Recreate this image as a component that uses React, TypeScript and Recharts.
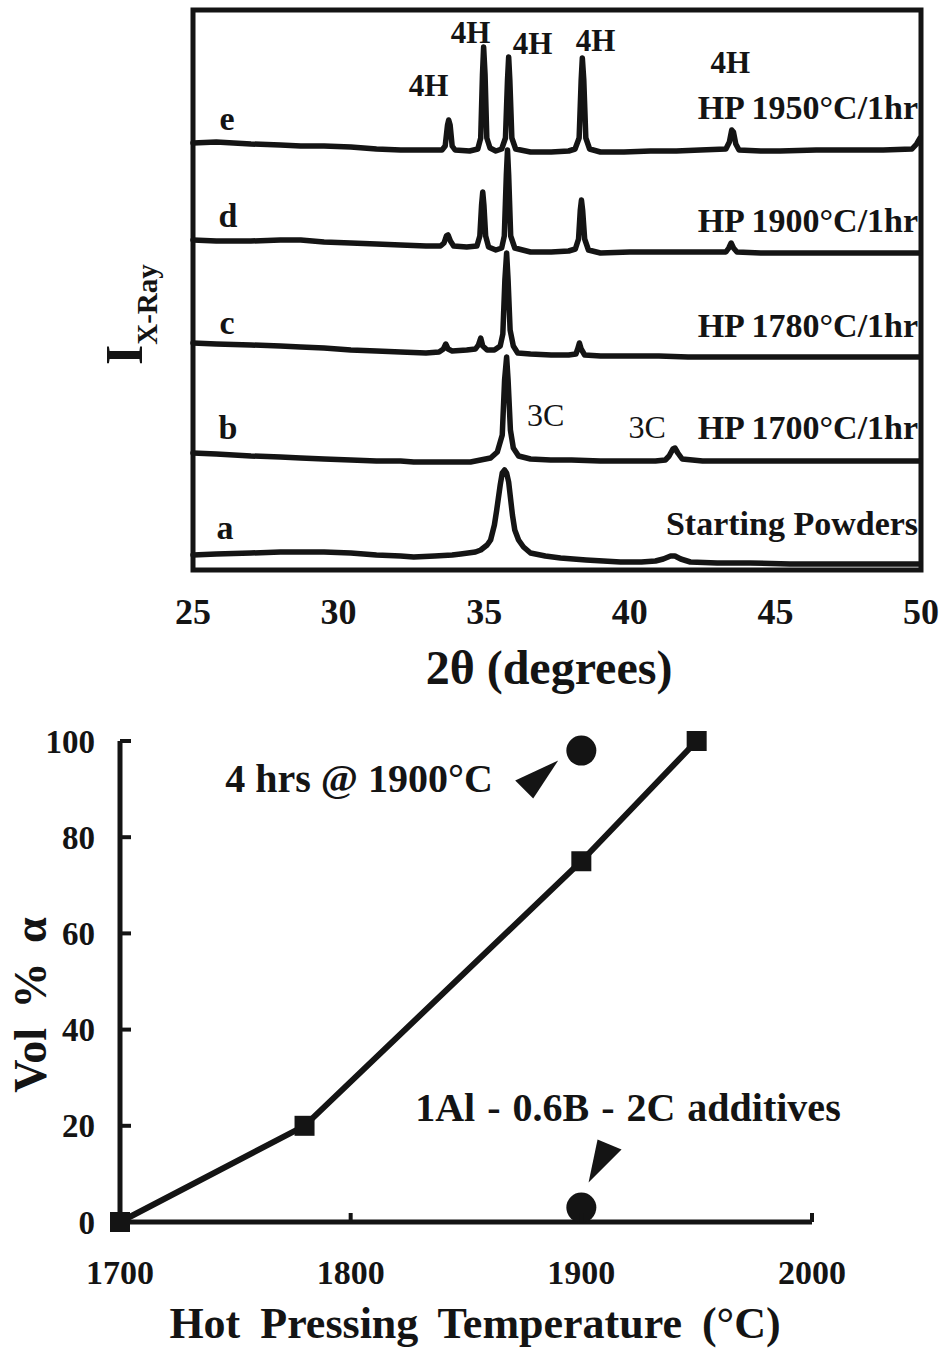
import React from 'react';
import {
  LineChart, ComposedChart, Line, Scatter, XAxis, YAxis, ReferenceArea, ReferenceDot,
} from 'recharts';

// ---------------- DATA: top panel (XRD patterns, 2θ in degrees vs. stacked intensity, a.u.) ----------------
const xrdTicks = [25, 30, 35, 40, 45, 50];

const traceE: [number, number][] = [
  [25.0, 427], [25.8, 428], [26.99, 426], [28.0, 425], [28.7, 424], [29.5, 424], [30.42, 423], [31.3, 421],
  [32.13, 420], [33.0, 420], [33.55, 420], [33.66, 424], [33.74, 445], [33.78, 450], [33.83, 445], [33.9, 424],
  [34.0, 420], [34.5, 419], [34.78, 421], [34.88, 432], [34.94, 495], [34.98, 523], [35.03, 495], [35.09, 432],
  [35.2, 422], [35.4, 419], [35.6, 421], [35.73, 432], [35.8, 490], [35.84, 513], [35.88, 490], [35.95, 432],
  [36.08, 421], [36.59, 418], [37.3, 418], [37.9, 419], [38.12, 421], [38.26, 432], [38.33, 490], [38.37, 512],
  [38.42, 490], [38.49, 432], [38.62, 421], [38.99, 418], [39.8, 418], [40.71, 419], [41.6, 419], [42.42, 420],
  [43.3, 421], [43.42, 428], [43.5, 440], [43.56, 438], [43.64, 426], [43.75, 420], [44.5, 419], [45.16, 419],
  [46.4, 420], [47.57, 420], [48.7, 420], [49.69, 421], [49.85, 426], [49.97, 432],
];

const traceD: [number, number][] = [
  [25.0, 330], [25.8, 329], [26.99, 329], [28.0, 330], [28.7, 330], [29.5, 328], [30.42, 327], [31.3, 326],
  [32.13, 325], [33.0, 324], [33.5, 324], [33.62, 327], [33.7, 334], [33.76, 335], [33.84, 329], [33.95, 324],
  [34.4, 323], [34.75, 324], [34.85, 334], [34.91, 365], [34.95, 378], [34.99, 365], [35.05, 334], [35.15, 323],
  [35.4, 320], [35.6, 322], [35.69, 334], [35.76, 395], [35.8, 420], [35.84, 395], [35.91, 334], [36.05, 322],
  [36.59, 318], [37.3, 318], [37.9, 319], [38.13, 321], [38.24, 331], [38.3, 360], [38.34, 370], [38.38, 360],
  [38.45, 331], [38.58, 320], [38.99, 317], [40.0, 318], [41.0, 318], [42.42, 318], [43.3, 318], [43.4, 322],
  [43.48, 327], [43.56, 322], [43.68, 318], [44.5, 317], [45.85, 317], [47.0, 317], [48.5, 317], [49.97, 317],
];

const traceC: [number, number][] = [
  [25.0, 227], [25.8, 226], [26.99, 225], [28.0, 224], [28.7, 223], [29.5, 222], [30.42, 220], [31.3, 219],
  [32.13, 218], [33.0, 217], [33.45, 218], [33.6, 221], [33.68, 226], [33.76, 221], [33.9, 219], [34.4, 220],
  [34.7, 221], [34.8, 225], [34.88, 232], [34.95, 224], [35.1, 220], [35.35, 220], [35.55, 224], [35.64, 236],
  [35.71, 290], [35.77, 317], [35.82, 290], [35.89, 240], [36.0, 224], [36.15, 217], [36.59, 216], [37.3, 215],
  [37.9, 215], [38.15, 216], [38.21, 221], [38.27, 227], [38.33, 221], [38.45, 215], [39.0, 214], [40.0, 214],
  [41.0, 214], [42.0, 213], [43.0, 213], [44.14, 213], [45.5, 213], [47.0, 213], [48.5, 213], [49.97, 213],
];

const traceB: [number, number][] = [
  [25.0, 117], [25.8, 116], [26.99, 114], [28.0, 113], [28.7, 112], [29.5, 111], [30.42, 110], [31.3, 109],
  [32.13, 109], [32.58, 108], [33.5, 108], [34.53, 108], [35.22, 112], [35.45, 118], [35.62, 135], [35.7, 190],
  [35.77, 213], [35.82, 190], [35.9, 140], [36.0, 122], [36.18, 114], [36.59, 111], [37.28, 110], [38.0, 110],
  [38.99, 109], [40.0, 109], [40.88, 109], [41.22, 110], [41.35, 114], [41.48, 121], [41.55, 122], [41.65, 117],
  [41.8, 111], [42.5, 109], [44.14, 109], [45.5, 109], [47.0, 109], [48.5, 109], [49.97, 109],
];

const traceA: [number, number][] = [
  [25.0, 15], [25.8, 16], [26.99, 17], [28.0, 18], [28.7, 18], [29.5, 18], [30.42, 17], [31.3, 15], [32.13, 14],
  [32.58, 13], [33.3, 14], [33.9, 15], [34.19, 16], [34.7, 18], [34.88, 20], [35.1, 25], [35.22, 30], [35.35, 45],
  [35.43, 60], [35.55, 85], [35.62, 97], [35.7, 100], [35.77, 97], [35.84, 88], [35.97, 55], [36.05, 40],
  [36.18, 30], [36.35, 23], [36.59, 17], [37.1, 14], [37.62, 12], [38.5, 10], [39.68, 8], [40.4, 8], [40.88, 9],
  [41.15, 11], [41.4, 14], [41.55, 14], [41.75, 11], [42.08, 8], [43.0, 7], [44.14, 7], [45.5, 6], [47.0, 6],
  [48.5, 6], [49.97, 6],
];

const xrdTraces = [
  { id: 'a', points: traceA },
  { id: 'b', points: traceB },
  { id: 'c', points: traceC },
  { id: 'd', points: traceD },
  { id: 'e', points: traceE },
];

const xrdLetters = [
  { x: 26.17, y: 452, text: 'e' },
  { x: 26.2, y: 355, text: 'd' },
  { x: 26.17, y: 248, text: 'c' },
  { x: 26.2, y: 143, text: 'b' },
  { x: 26.1, y: 43, text: 'a' },
];

const xrd4HTags = [
  { x: 33.09, y: 485, text: '4H' },
  { x: 34.53, y: 538, text: '4H' },
  { x: 36.66, y: 527, text: '4H' },
  { x: 38.82, y: 530, text: '4H' },
  { x: 43.45, y: 508, text: '4H' },
];

const xrd3CTags = [
  { x: 37.11, y: 155, text: '3C' },
  { x: 40.6, y: 143, text: '3C' },
];

const xrdConditions = [
  { x: 49.9, y: 463, text: 'HP 1950°C/1hr' },
  { x: 49.9, y: 350, text: 'HP 1900°C/1hr' },
  { x: 49.9, y: 245, text: 'HP 1780°C/1hr' },
  { x: 49.9, y: 143, text: 'HP 1700°C/1hr' },
  { x: 49.9, y: 47, text: 'Starting Powders' },
];

// ---------------- DATA: bottom panel (Vol % alpha vs hot pressing temperature) ----------------
const tempTicks = [1700, 1800, 1900, 2000];
const volTicks = [0, 20, 40, 60, 80, 100];

const hpTemps = [1700, 1780, 1900, 1950];
const hpAlpha = [0, 20, 75, 100];

const specialTemps = [1900, 1900];
const specialAlpha = [98, 3];

const bottomNotes = [
  { t: 1803.6, v: 92.3, text: '4 hrs @ 1900°C' },
  { t: 1920.2, v: 23.9, text: '1Al - 0.6B - 2C  additives' },
];

const arrowHeads = [
  { t: 1880.0, v: 92.0, dir: 'upRight' },
  { t: 1909.2, v: 13.4, dir: 'downLeft' },
];

// ---------------- styling ----------------
const FONT = '"Liberation Serif", "Times New Roman", Times, serif';
const INK = '#141414';

const lineData = hpTemps.map((t, i) => ({ t, v: hpAlpha[i] }));
const circleData = specialTemps.map((t, i) => ({ t, v: specialAlpha[i] }));

const ARROW_SHAPES: Record<string, [number, number][]> = {
  upRight: [[-20, 1], [23, -19], [-2, 19]],
  downLeft: [[-5, -18], [19, -8], [-14, 25]],
};

function textDot(text: string, size: number, weight: number, anchor: string, extra?: any) {
  return (p: any) => (
    <text
      x={p.cx}
      y={p.cy}
      dy="0.34em"
      textAnchor={anchor}
      fontFamily={FONT}
      fontSize={size}
      fontWeight={weight}
      fill={INK}
      {...(extra || {})}
    >
      {text}
    </text>
  );
}

const renderXrdXTitle = (props: any) => {
  const vb = props.viewBox;
  return (
    <text x={vb.x + vb.width / 2 - 8} y={vb.y + 114} textAnchor="middle" fontFamily={FONT}
      fontSize={48} fontWeight={700} fill={INK}>
      2θ (degrees)
    </text>
  );
};

const renderXrdYTitle = (props: any) => {
  const vb = props.viewBox;
  const x = vb.x + 142;
  const y = vb.y + 355;
  return (
    <text transform={`translate(${x},${y}) rotate(-90)`} fontFamily={FONT} fontWeight={700} fill={INK}>
      <tspan fontSize={52}>I</tspan>
      <tspan fontSize={29} dy={15}>X-Ray</tspan>
    </text>
  );
};

const renderTempTitle = (props: any) => {
  const vb = props.viewBox;
  return (
    <text x={vb.x + vb.width / 2 + 9} y={vb.y + 116} textAnchor="middle" fontFamily={FONT}
      fontSize={44} fontWeight={700} fill={INK} wordSpacing={9}>
      Hot Pressing Temperature (°C)
    </text>
  );
};

const renderVolTitle = (props: any) => {
  const vb = props.viewBox;
  const x = vb.x + 46;
  const y = vb.y + 264;
  return (
    <text transform={`translate(${x},${y}) rotate(-90)`} textAnchor="middle" fontFamily={FONT}
      fontSize={46} fontWeight={700} fill={INK} wordSpacing={8}>
      Vol % α
    </text>
  );
};

const TempTick = (props: any) => {
  const { x, y, payload } = props;
  return (
    <g>
      <line x1={x} x2={x} y1={y} y2={y - 9} stroke={INK} strokeWidth={4} />
      <text x={x} y={y + 62} textAnchor="middle" fontFamily={FONT} fontSize={34} fontWeight={700} fill={INK}>
        {payload.value}
      </text>
    </g>
  );
};

const VolTick = (props: any) => {
  const { x, y, payload } = props;
  return (
    <g>
      <line x1={x} x2={x + 11} y1={y} y2={y} stroke={INK} strokeWidth={4} />
      <text x={x - 25} y={y} dy="0.35em" textAnchor="end" fontFamily={FONT} fontSize={33} fontWeight={700} fill={INK}>
        {payload.value}
      </text>
    </g>
  );
};

const renderSquare = (p: any) => (
  <rect key={`sq-${p.index}`} x={p.cx - 10} y={p.cy - 10} width={20} height={20} fill={INK} />
);

const renderCircle = (p: any) => <circle cx={p.cx} cy={p.cy} r={15} fill={INK} />;

function XrdPanel() {
  return (
    <LineChart width={942} height={700} margin={{ top: 10, right: 21, bottom: 0, left: 0 }}>
      <XAxis
        type="number"
        dataKey="x"
        domain={[25, 50]}
        ticks={xrdTicks}
        height={130}
        axisLine={false}
        tickLine={false}
        tickSize={0}
        tickMargin={28}
        tick={{ fill: INK, fontSize: 36, fontWeight: 700, fontFamily: FONT }}
        label={{ content: renderXrdXTitle }}
      />
      <YAxis
        type="number"
        domain={[0, 560]}
        width={193}
        tick={false}
        axisLine={false}
        tickLine={false}
        label={{ content: renderXrdYTitle }}
      />
      <ReferenceArea x1={25} x2={50} y1={0} y2={560} fill="none" fillOpacity={0} stroke={INK} strokeWidth={5} />
      {xrdTraces.map((tr) => (
        <Line
          key={tr.id}
          data={tr.points.map(([x, y]) => ({ x, y }))}
          dataKey="y"
          type="linear"
          stroke={INK}
          strokeWidth={5.5}
          strokeLinejoin="round"
          strokeLinecap="round"
          dot={false}
          activeDot={false}
          isAnimationActive={false}
        />
      ))}
      {xrdLetters.map((n, i) => (
        <ReferenceDot key={`l${i}`} x={n.x} y={n.y} r={0} shape={textDot(n.text, 34, 700, 'middle')} />
      ))}
      {xrd4HTags.map((n, i) => (
        <ReferenceDot key={`h${i}`} x={n.x} y={n.y} r={0} shape={textDot(n.text, 31, 700, 'middle')} />
      ))}
      {xrd3CTags.map((n, i) => (
        <ReferenceDot key={`c${i}`} x={n.x} y={n.y} r={0} shape={textDot(n.text, 32, 400, 'middle')} />
      ))}
      {xrdConditions.map((n, i) => (
        <ReferenceDot key={`p${i}`} x={n.x} y={n.y} r={0} shape={textDot(n.text, 34, 700, 'end')} />
      ))}
    </LineChart>
  );
}

function AlphaPanel() {
  return (
    <ComposedChart width={942} height={650} margin={{ top: 41, right: 130, bottom: 0, left: 0 }}>
      <XAxis
        type="number"
        dataKey="t"
        domain={[1700, 2000]}
        ticks={tempTicks}
        height={128}
        axisLine={{ stroke: INK, strokeWidth: 5 }}
        tickLine={false}
        tickSize={0}
        tickMargin={0}
        tick={TempTick}
        label={{ content: renderTempTitle }}
      />
      <YAxis
        type="number"
        dataKey="v"
        domain={[0, 100]}
        ticks={volTicks}
        width={120}
        axisLine={{ stroke: INK, strokeWidth: 5 }}
        tickLine={false}
        tickSize={0}
        tickMargin={0}
        tick={VolTick}
        label={{ content: renderVolTitle }}
      />
      <Line
        data={lineData}
        dataKey="v"
        type="linear"
        stroke={INK}
        strokeWidth={6}
        dot={renderSquare}
        activeDot={false}
        isAnimationActive={false}
      />
      <Scatter data={circleData} dataKey="v" fill={INK} shape={renderCircle} isAnimationActive={false} />
      {bottomNotes.map((n, i) => (
        <ReferenceDot key={`n${i}`} x={n.t} y={n.v} r={0} shape={textDot(n.text, 40, 700, 'middle', i === 1 ? { wordSpacing: 2 } : undefined)} />
      ))}
      {arrowHeads.map((a, i) => (
        <ReferenceDot
          key={`a${i}`}
          x={a.t}
          y={a.v}
          r={0}
          shape={(p: any) => (
            <polygon
              points={ARROW_SHAPES[a.dir].map(([dx, dy]) => `${p.cx + dx},${p.cy + dy}`).join(' ')}
              fill={INK}
            />
          )}
        />
      ))}
    </ComposedChart>
  );
}

export default function App() {
  return (
    <div style={{ position: 'absolute', left: 0, top: 0, width: 942, height: 1350, background: '#fff', overflow: 'hidden' }}>
      <div style={{ position: 'absolute', left: 0, top: 0 }}>
        <XrdPanel />
      </div>
      <div style={{ position: 'absolute', left: 0, top: 700 }}>
        <AlphaPanel />
      </div>
    </div>
  );
}
